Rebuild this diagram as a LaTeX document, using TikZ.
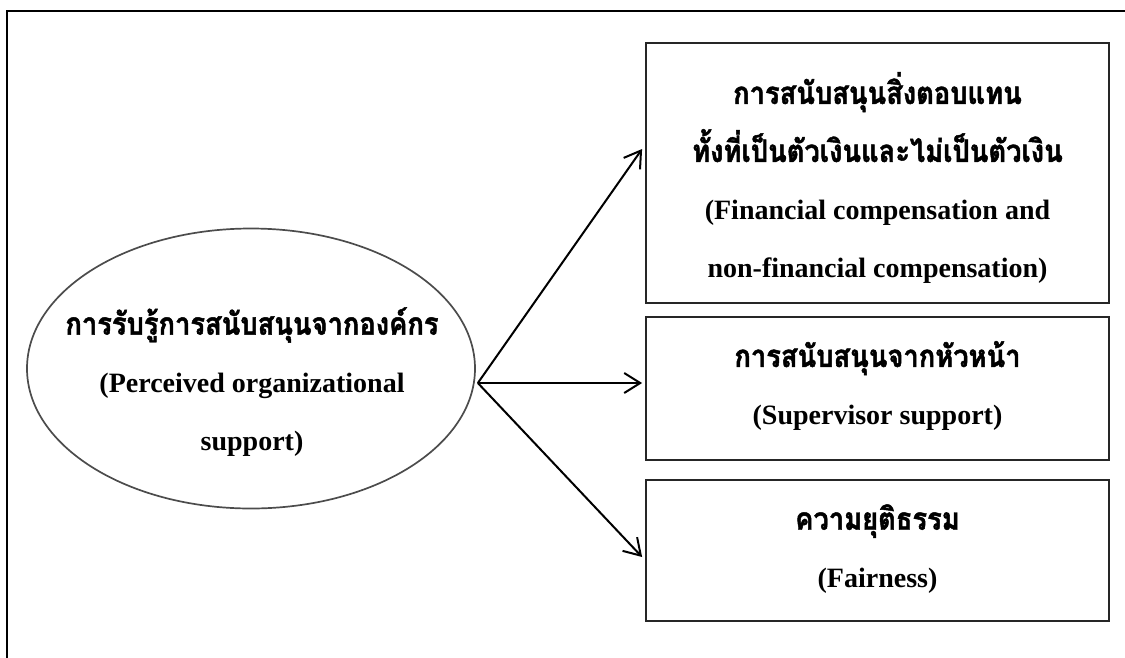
\documentclass[tikz,border=0pt]{standalone}
\usepackage{fontspec}
\setmainfont{Liberation Serif}
\newfontfamily\thaifont[Script=Thai,FakeBold=1.5,FakeStretch=0.88]{Loma}
\usetikzlibrary{arrows.meta,calc,shapes.geometric}

\newcommand{\thline}[1]{{\thaifont\fontsize{31}{58}\selectfont #1}}

\begin{document}
\begin{tikzpicture}[x=1pt,y=-1pt,
  frameline/.style={line width=2.4pt, line cap=rect},
  topic/.style={ellipse, draw=black!70, line width=1.7pt,
    minimum width=448pt, minimum height=280pt, inner sep=0pt},
  factor/.style={rectangle, draw=black!85, line width=1.8pt,
    minimum width=463pt, inner sep=0pt},
  words/.style={align=center, inner sep=0pt,
    font=\bfseries\fontsize{28}{58}\selectfont},
  link/.style={line width=2pt,
    -{Straight Barb[length=16pt,width=20pt,line width=2pt]}}
]
\useasboundingbox (0,0) rectangle (1125,657);

% outer frame: top and left edges only
\draw[frameline] (1125,11) -- (7,11) -- (7,657);

% central construct
\node[topic] (ell) at (251,368.5) {};
\node[words] (ellt) at (252,382) {\thline{การรับรู้การสนับสนุนจากองค์กร}\\
  (Perceived organizational\\ support)};

% three factor boxes
\node[factor, minimum height=260pt] (b1) at (877.5,173) {};
\node[words] (b1t) at (877.5,178) {\thline{การสนับสนุนสิ่งตอบแทน}\\
  \thline{ทั้งที่เป็นตัวเงินและไม่เป็นตัวเงิน}\\
  (Financial compensation and\\ non-financial compensation)};

\node[factor, minimum height=143pt] (b2) at (877.5,388.5) {};
\node[words] (b2t) at (877.5,386) {\thline{การสนับสนุนจากหัวหน้า}\\
  (Supervisor support)};

\node[factor, minimum height=141pt] (b3) at (877.5,550.5) {};
\node[words] (b3t) at (877.5,549) {\thline{ความยุติธรรม}\\ (Fairness)};

% arrows fanning out from the ellipse
\coordinate (hub) at ($(ell.east)+(2,14.5)$);
\draw[link] (hub) -- ($(b1.west)+(-3,-24)$);
\draw[link] (hub) -- ($(b2.west)+(-3,-5.5)$);
\draw[link] (hub) -- ($(b3.west)+(-3,6.5)$);
\end{tikzpicture}
\end{document}
